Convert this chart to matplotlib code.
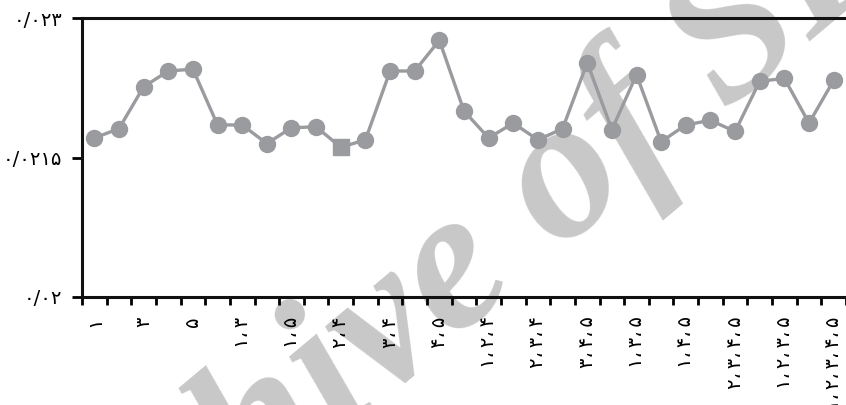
import matplotlib
matplotlib.use("Agg")
import matplotlib.pyplot as plt
import numpy as np

# subsets of {1..5}, in the order used on the x axis
subsets = [
    "1", "2", "3", "4", "5",
    "1,2", "1,3", "1,4", "1,5", "2,3", "2,4", "2,5", "3,4", "3,5", "4,5",
    "1,2,3", "1,2,4", "1,2,5", "2,3,4", "2,3,5", "3,4,5", "1,3,4", "1,3,5", "2,4,5", "1,4,5",
    "1,2,3,4", "2,3,4,5", "1,2,4,5", "1,2,3,5", "1,3,4,5",
    "1,2,3,4,5",
]
values = [
    0.02171, 0.02181, 0.02226, 0.02243, 0.02245,
    0.02185, 0.02185, 0.02165, 0.02182, 0.02183, 0.02161, 0.02169, 0.02243, 0.02243, 0.02276,
    0.02200, 0.02171, 0.02187, 0.02169, 0.02181, 0.02252, 0.02180, 0.02239, 0.02167, 0.02185,
    0.02190, 0.02178, 0.02232, 0.02235, 0.02187,
    0.02233,
]
highlight = 10  # the square marker
y_ticks = [0.02, 0.0215, 0.023]

fa_digits = str.maketrans("0123456789", "۰۱۲۳۴۵۶۷۸۹")


def fa(s):
    return s.translate(fa_digits)


def fa_label(s):
    # persian comma plus a thin space, as in the source
    return fa(s).replace(",", "،\u2009")


def fa_num(v):
    return fa(("%g" % v).replace(".", "/"))


grey = "#9a9b9f"
x = np.arange(len(values))

fig = plt.figure(figsize=(8.46, 4.05), dpi=100)
ax = fig.add_axes([82 / 846, 108 / 405, 1 - 82 / 846, 279 / 405])
ax.patch.set_alpha(0)

# watermark, behind everything
fig.text(0.56, 0.34, "Archive of SID", rotation=40, color="#c8c8c8",
         fontsize=145, family="Liberation Serif", style="italic", weight="bold",
         ha="center", va="center", zorder=-5)

mask = np.ones(len(values), bool)
mask[highlight] = False
ax.plot(x, values, color=grey, lw=2.4, zorder=2)
ax.plot(x[mask], np.array(values)[mask], "o", color=grey, ms=11.5, zorder=3)
ax.plot(x[highlight], values[highlight], "s", color=grey, ms=11.5, zorder=3)

ax.set_xlim(-0.5, 30.3)
ax.set_ylim(0.02, 0.023)

ax.spines["right"].set_visible(False)
for side in ("left", "bottom", "top"):
    ax.spines[side].set_linewidth(2.2)
    ax.spines[side].set_color("#111111")

ax.set_yticks(y_ticks)
ax.set_yticklabels([fa_num(v) for v in y_ticks], fontsize=14, family="DejaVu Sans")
ax.tick_params(axis="y", direction="out", length=7, width=2, pad=7)

ax.set_xticks(np.arange(-0.5, 31, 1))
ax.set_xticklabels([])
ax.tick_params(axis="x", which="major", direction="out", length=6, width=2)
ax.set_xticks(x[::2], minor=True)
ax.set_xticklabels([fa_label(s) for s in subsets[::2]], minor=True,
                   rotation=90, fontsize=14, family="DejaVu Sans", va="top")
ax.tick_params(axis="x", which="minor", length=0, pad=14)

fig.savefig("out.png", dpi=100)
